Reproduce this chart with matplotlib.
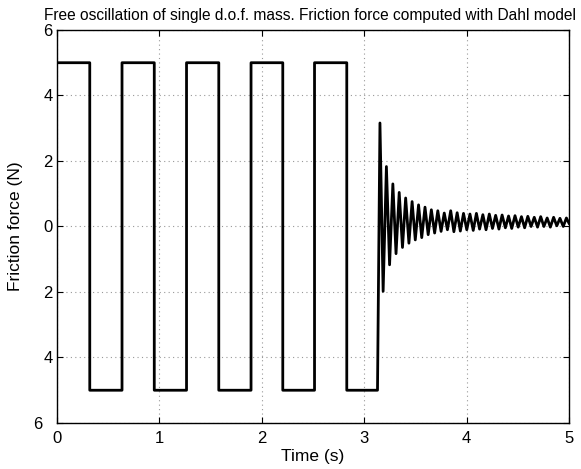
import numpy as np
import matplotlib.pyplot as plt

plt.rcParams['font.family'] = ['Liberation Sans', 'DejaVu Sans']

# stick-slip part: switching instants (s) and force level of each segment (N)
switch_t = [0.0, 0.32, 0.635, 0.95, 1.265, 1.58, 1.895, 2.205, 2.515, 2.83, 3.13]
levels = [5, -5, 5, -5, 5, -5, 5, -5, 5, -5]

# decaying part: peaks / troughs
peak_t = [3.154, 3.185, 3.217, 3.248, 3.280, 3.311, 3.342, 3.374, 3.405, 3.437,
          3.468, 3.499, 3.531, 3.562, 3.594, 3.625, 3.656, 3.688, 3.719, 3.751,
          3.782, 3.813, 3.845, 3.876, 3.908, 3.939, 3.970, 4.002, 4.033, 4.065,
          4.096, 4.127, 4.159, 4.190, 4.222, 4.253, 4.284, 4.316, 4.347, 4.379,
          4.410, 4.441, 4.473, 4.504, 4.536, 4.567, 4.598, 4.630, 4.661, 4.693,
          4.724, 4.755, 4.787, 4.818, 4.850, 4.881, 4.912, 4.944, 4.975, 5.0]
peak_f = [3.16, -1.98, 1.83, -1.17, 1.30, -0.83, 1.04, -0.64, 0.87, -0.51,
          0.76, -0.41, 0.66, -0.34, 0.59, -0.25, 0.51, -0.20, 0.48, -0.15,
          0.41, -0.10, 0.48, -0.16, 0.42, -0.14, 0.40, -0.10, 0.38, -0.12,
          0.40, -0.08, 0.36, -0.10, 0.38, -0.06, 0.34, -0.08, 0.35, -0.04,
          0.32, -0.06, 0.33, -0.02, 0.30, -0.04, 0.31, 0.00, 0.28, -0.02,
          0.30, 0.00, 0.26, -0.02, 0.28, 0.02, 0.25, 0.00, 0.26, 0.10]

xticks = [0, 1, 2, 3, 4, 5]
yticks = [-6, -4, -2, 0, 2, 4, 6]
ylabels = ['6  ', '4', '2', '0', '2', '4', '6']

# vertices of the square wave
t = []
f = []
for i in range(len(levels)):
    t += [switch_t[i], switch_t[i + 1]]
    f += [levels[i], levels[i]]
t = t + peak_t
f = f + peak_f

fig = plt.figure(figsize=(5.81, 4.69), dpi=100)
ax = fig.add_axes([0.0981, 0.0981, 0.8812, 0.8380])
ax.plot(t, f, color='black', lw=2.0)

ax.set_xlim(0, 5)
ax.set_ylim(-6, 6)
ax.set_xticks(xticks)
ax.set_yticks(yticks)
ax.set_yticklabels(ylabels)
ax.grid(True, linestyle=(0, (1, 3)), color='#999999', lw=0.8)
ax.tick_params(direction='in', length=4, top=True, right=True, labelsize=12)
ax.tick_params(axis='x', pad=6)
ax.tick_params(axis='y', pad=3)
for s in ax.spines.values():
    s.set_linewidth(1.0)

ax.set_xlabel('Time (s)', fontsize=12.5, labelpad=2)
ax.set_ylabel('Friction force (N)', fontsize=12.5, labelpad=8)
ax.set_title('Free oscillation of single d.o.f. mass. Friction force computed with Dahl model',
             fontsize=11.2, pad=7, x=0.494)

fig.savefig('out.png', dpi=100)
